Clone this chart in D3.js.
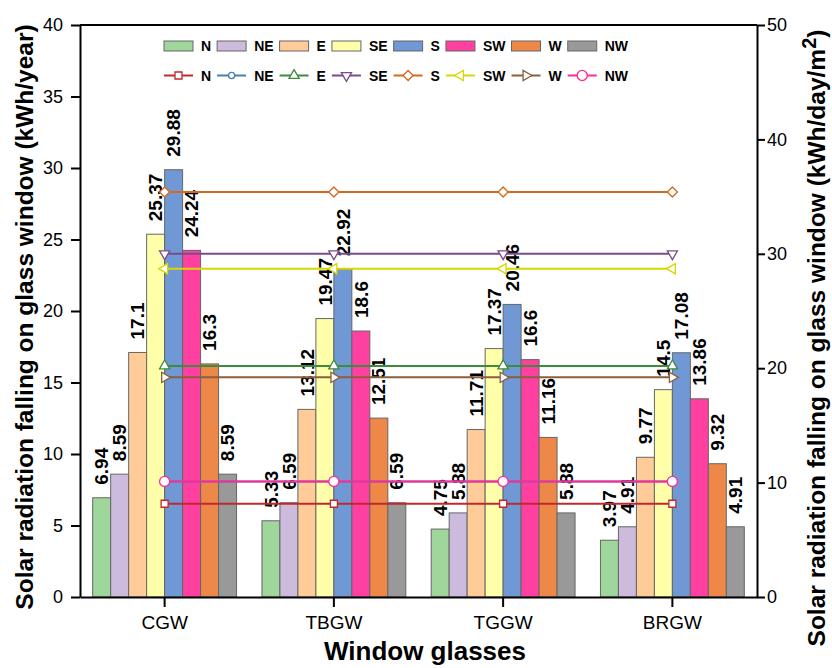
<!DOCTYPE html>
<html>
<head>
<meta charset="utf-8">
<style>
  body { margin: 0; background: #fff; }
  text { font-family: Arial, "Liberation Sans", Helvetica, sans-serif; fill: #000; }
  .axis path, .axis line { stroke: #000; stroke-width: 2px; }
  .axis text { font-size: 18px; }
</style>
</head>
<body>
<div id="chart"></div>
<script src="https://cdn.jsdelivr.net/npm/d3@7/dist/d3.min.js"></script>
<script>
// window glasses on the x axis
var glasses = ["CGW", "TBGW", "TGGW", "BRGW"];
var directions = ["N", "NE", "E", "SE", "S", "SW", "W", "NW"];

// bars: kWh/year, one value per glass
var barN  = [6.94, 5.33, 4.75, 3.97];
var barNE = [8.59, 6.59, 5.88, 4.91];
var barE  = [17.1, 13.12, 11.71, 9.77];
var barSE = [25.37, 19.47, 17.37, 14.5];
var barS  = [29.88, 22.92, 20.46, 17.08];
var barSW = [24.24, 18.6, 16.6, 13.86];
var barW  = [16.3, 12.51, 11.16, 9.32];
var barNW = [8.59, 6.59, 5.88, 4.91];

// lines: kWh/day/m2, one value per glass
var lineN  = [8.15, 8.15, 8.15, 8.15];
var lineNE = [10.1, 10.1, 10.1, 10.1];
var lineE  = [20.2, 20.2, 20.2, 20.2];
var lineSE = [30.0, 30.0, 30.0, 30.0];
var lineS  = [35.4, 35.4, 35.4, 35.4];
var lineSW = [28.7, 28.7, 28.7, 28.7];
var lineW  = [19.2, 19.2, 19.2, 19.2];
var lineNW = [10.1, 10.1, 10.1, 10.1];

var leftTicks = [0, 5, 10, 15, 20, 25, 30, 35, 40];
var rightTicks = [0, 10, 20, 30, 40, 50];

var bars = [barN, barNE, barE, barSE, barS, barSW, barW, barNW];
var lines = [lineN, lineNE, lineE, lineSE, lineS, lineSW, lineW, lineNW];

var barColors = ["#9ed69b", "#cdbbde", "#ffcc99", "#ffffaa", "#7098d4", "#ff40a0", "#ee8848", "#999999"];
var lineColors = ["#c0282d", "#4a7eb0", "#3c8c3c", "#7a4a8e", "#d2691e", "#d8d800", "#8b5e3c", "#ff2a9a"];
// marker: symbol, size, rotation
var markers = [
  [d3.symbolSquare, 49, 0],
  [d3.symbolCircle, 30, 0],
  [d3.symbolTriangle, 45, 0],
  [d3.symbolTriangle, 45, 180],
  [d3.symbolSquare, 50, 45],
  [d3.symbolTriangle, 45, -90],
  [d3.symbolTriangle, 45, 90],
  [d3.symbolCircle, 80, 0]
];

var W = 832, H = 668;
var pLeft = 80, pRight = 757, pTop = 25, pBottom = 597;

var svg = d3.select("#chart").append("svg")
  .attr("width", W)
  .attr("height", H);

var x0 = d3.scaleBand().domain(glasses).range([pLeft, pRight]);
var groupW = x0.bandwidth() * 0.85;
var x1 = d3.scaleBand().domain(directions).range([0, groupW]);
var off = (x0.bandwidth() - groupW) / 2;
var yL = d3.scaleLinear().domain([0, 40]).range([pBottom, pTop]);
var yR = d3.scaleLinear().domain([0, 50]).range([pBottom, pTop]);

// bars
directions.forEach(function (d, i) {
  svg.append("g").selectAll("rect")
    .data(bars[i])
    .enter().append("rect")
    .attr("x", function (v, j) { return x0(glasses[j]) + off + x1(d); })
    .attr("y", function (v) { return yL(v); })
    .attr("width", x1.bandwidth())
    .attr("height", function (v) { return pBottom - yL(v); })
    .attr("fill", barColors[i])
    .attr("stroke", "#666")
    .attr("stroke-width", 1);
});

// value labels
directions.forEach(function (d, i) {
  svg.append("g").selectAll("text")
    .data(bars[i])
    .enter().append("text")
    .attr("transform", function (v, j) {
      var cx = x0(glasses[j]) + off + x1(d) + x1.bandwidth() / 2;
      return "translate(" + cx + "," + (yL(v) - 13) + ") rotate(-90)";
    })
    .attr("dy", "0.35em")
    .style("font-size", "19px")
    .style("font-weight", "bold")
    .text(function (v) { return String(v); });
});

// axes
svg.append("g").attr("class", "axis")
  .attr("transform", "translate(" + pLeft + ",0)")
  .call(d3.axisLeft(yL).tickValues(leftTicks).tickSize(9).tickPadding(8).tickSizeOuter(0));

svg.append("g").attr("class", "axis")
  .attr("transform", "translate(" + pRight + ",0)")
  .call(d3.axisRight(yR).tickValues(rightTicks).tickSize(8).tickPadding(2).tickSizeOuter(0));

var xa = svg.append("g").attr("class", "axis")
  .attr("transform", "translate(0," + pBottom + ")")
  .call(d3.axisBottom(x0).tickSize(10).tickPadding(9).tickSizeOuter(0));
xa.selectAll("text").style("font-size", "19px");

svg.append("line")
  .attr("x1", pLeft).attr("x2", pRight)
  .attr("y1", pTop).attr("y2", pTop)
  .attr("stroke", "#000").attr("stroke-width", 2);

// lines on the right axis
var cx = function (g) { return x0(g) + x0.bandwidth() / 2; };
directions.forEach(function (d, i) {
  var pts = lines[i].map(function (v, j) { return [cx(glasses[j]), yR(v)]; });
  svg.append("path")
    .attr("d", d3.line()(pts))
    .attr("fill", "none")
    .attr("stroke", lineColors[i])
    .attr("stroke-width", 2);
  svg.append("g").selectAll("path")
    .data(pts)
    .enter().append("path")
    .attr("d", d3.symbol().type(markers[i][0]).size(markers[i][1]))
    .attr("transform", function (p) { return "translate(" + p[0] + "," + p[1] + ") rotate(" + markers[i][2] + ")"; })
    .attr("fill", "#fff")
    .attr("stroke", lineColors[i])
    .attr("stroke-width", 1.3);
});

// legend
var lg = svg.append("g").style("font-size", "14px").style("font-weight", "bold");
var lx = 164;
directions.forEach(function (d, i) {
  lg.append("rect")
    .attr("x", lx).attr("y", 41)
    .attr("width", 29).attr("height", 10)
    .attr("fill", barColors[i])
    .attr("stroke", "#666");
  lg.append("line")
    .attr("x1", lx).attr("x2", lx + 29)
    .attr("y1", 75.5).attr("y2", 75.5)
    .attr("stroke", lineColors[i]).attr("stroke-width", 2);
  lg.append("path")
    .attr("d", d3.symbol().type(markers[i][0]).size(markers[i][1]))
    .attr("transform", "translate(" + (lx + 14.5) + ",75.5) rotate(" + markers[i][2] + ")")
    .attr("fill", "#fff")
    .attr("stroke", lineColors[i])
    .attr("stroke-width", 1.3);
  var t1 = lg.append("text").attr("x", lx + 37).attr("y", 51).text(d);
  lg.append("text").attr("x", lx + 37).attr("y", 80.5).text(d);
  lx = lx + 37 + t1.node().getComputedTextLength() + 6;
});

// axis titles
svg.append("text")
  .attr("transform", "translate(33,317) rotate(-90)")
  .attr("text-anchor", "middle")
  .style("font-size", "24.5px").style("font-weight", "bold")
  .text("Solar radiation falling on glass window (kWh/year)");

var rt = svg.append("text")
  .attr("transform", "translate(825,338) rotate(-90)")
  .attr("text-anchor", "middle")
  .style("font-size", "24.5px").style("font-weight", "bold");
rt.append("tspan").text("Solar radiation falling on glass window (kWh/day/m");
rt.append("tspan").attr("dy", -9).style("font-size", "20px").text("2");
rt.append("tspan").attr("dy", 9).text(")");

svg.append("text")
  .attr("x", 425).attr("y", 660)
  .attr("text-anchor", "middle")
  .style("font-size", "26px").style("font-weight", "bold")
  .text("Window glasses");
</script>
</body>
</html>
